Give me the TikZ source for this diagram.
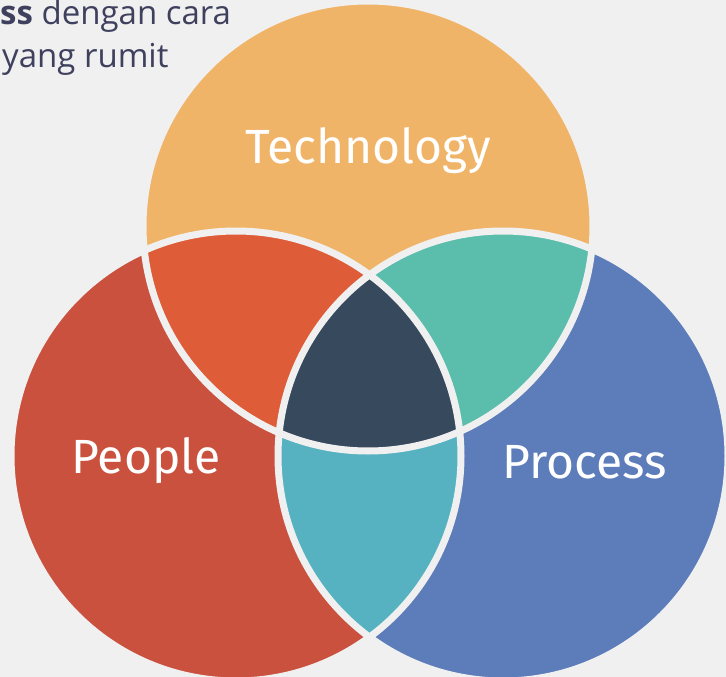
\documentclass[tikz,border=0pt]{standalone}
\usepackage{fontspec}
\setmainfont{Open Sans}
\newfontfamily\labelfont{Fira Sans}
\usepackage{xcolor}
\definecolor{bg}{HTML}{F0F0F0}
\definecolor{techcol}{HTML}{F0B468}
\definecolor{peoplecol}{HTML}{CB513F}
\definecolor{processcol}{HTML}{5C7CBA}
\definecolor{techpeople}{HTML}{DE5C37}
\definecolor{techprocess}{HTML}{5BBDAB}
\definecolor{peopleprocess}{HTML}{56B2C0}
\definecolor{allthree}{HTML}{37495C}
\definecolor{textcol}{HTML}{3E405E}

\begin{document}
\begin{tikzpicture}[x=1pt, y=-1pt,
    venntext/.style={text=white, font=\labelfont\fontsize{48}{48}\selectfont, anchor=base, inner sep=0pt},
    captext/.style={text=textcol, font=\fontsize{33}{33}\selectfont, anchor=base west, inner sep=0pt},
    gap/.style={draw=bg, line width=7pt}]
  \useasboundingbox (0,0) rectangle (726,677);
  \fill[bg] (0,0) rectangle (726,677);
  % caption, cut off at the left
  \node[captext] (capA) at (0,25) {\textbf{ss} dengan cara};
  \node[captext] (capB) at (2,67) {yang rumit};
  % circle centres
  \def\rad{225pt}
  \coordinate (T) at (368,226);
  \coordinate (L) at (236,456);
  \coordinate (R) at (503,456);
  % circles
  \fill[techcol] (T) circle[radius=\rad];
  \fill[peoplecol] (L) circle[radius=\rad];
  \fill[processcol] (R) circle[radius=\rad];
  % overlaps
  \begin{scope}
    \clip (L) circle[radius=\rad];
    \fill[peopleprocess] (R) circle[radius=\rad];
  \end{scope}
  \begin{scope}
    \clip (T) circle[radius=\rad];
    \fill[techpeople] (L) circle[radius=\rad];
    \fill[techprocess] (R) circle[radius=\rad];
    \clip (L) circle[radius=\rad];
    \fill[allthree] (R) circle[radius=\rad];
  \end{scope}
  % separating lines
  \draw[gap] (T) circle[radius=\rad];
  \draw[gap] (L) circle[radius=\rad];
  \draw[gap] (R) circle[radius=\rad];
  % labels
  \node[venntext] (tech) at (368,163) {Technology};
  \node[venntext] (people) at (146,473) {People};
  \node[venntext] (process) at (585,478) {Process};
\end{tikzpicture}
\end{document}
